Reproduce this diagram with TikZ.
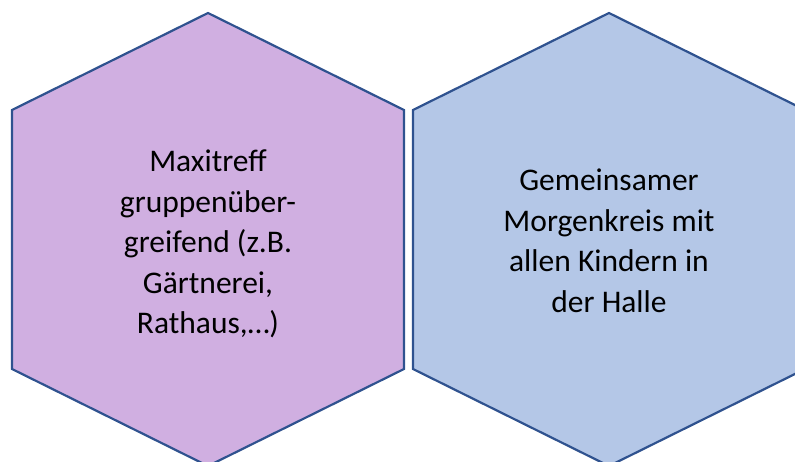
\documentclass[tikz,border=0pt]{standalone}
\usepackage{fontspec}
\setmainfont{Carlito}
\definecolor{hexline}{RGB}{47,82,143}
\definecolor{hexpurple}{RGB}{208,175,225}
\definecolor{hexblue}{RGB}{180,199,231}
\tikzset{
  hexcell/.style={draw=hexline, line width=2.2pt, line join=miter},
  hexlabel/.style={align=center, text=black, inner sep=0pt,
    font=\fontsize{31.5}{40.5}\selectfont}
}
\begin{document}
\begin{tikzpicture}[x=1pt, y=-1pt]
  \useasboundingbox (0,0) rectangle (795,461);
  \clip (0,0) rectangle (795,461);
  % left hexagon
  \draw[hexcell, fill=hexpurple]
    (208,13) -- (404,110) -- (404,369) -- (208,466) -- (12,369) -- (12,110) -- cycle;
  % right hexagon
  \draw[hexcell, fill=hexblue]
    (609,13) -- (805,110) -- (805,369) -- (609,466) -- (413,369) -- (413,110) -- cycle;
  \node[hexlabel] (maxi) at (208,244)
    {Maxitreff\\gruppenüber-\\greifend (z.B.\\Gärtnerei,\\Rathaus,…)};
  \node[hexlabel] (morgen) at (609,241)
    {Gemeinsamer\\Morgenkreis mit\\allen Kindern in\\der Halle};
\end{tikzpicture}
\end{document}
